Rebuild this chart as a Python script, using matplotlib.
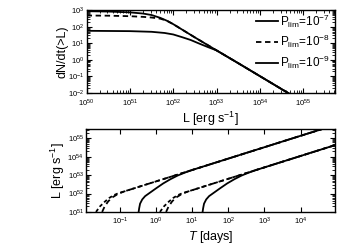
import numpy as np
import matplotlib
matplotlib.use("Agg")
import matplotlib.pyplot as plt
from matplotlib.ticker import LogLocator, NullFormatter, NullLocator, FixedLocator

plt.rcParams['font.family'] = ['Liberation Sans', 'DejaVu Sans']
plt.rcParams['mathtext.fontset'] = 'custom'
plt.rcParams['mathtext.rm'] = 'Liberation Sans'
plt.rcParams['mathtext.it'] = 'Liberation Sans:italic'
plt.rcParams['mathtext.bf'] = 'Liberation Sans:bold'

# ---------------- top panel data (log10 values) ----------------
logL_p7 = [50.0, 50.5, 51.0, 51.3, 51.5, 51.7, 51.85, 52.0, 52.5, 53.0, 53.5, 54.0, 54.5, 54.7]
logN_p7 = [2.93, 2.91, 2.86, 2.79, 2.70, 2.53, 2.36, 2.15, 1.35, 0.57, -0.20, -0.98, -1.76, -2.07]

logL_p8 = [50.0, 50.5, 51.0, 51.3, 51.5, 51.7, 51.85, 52.0, 52.5, 53.0, 53.5, 54.0, 54.5, 54.7]
logN_p8 = [2.67, 2.66, 2.63, 2.59, 2.55, 2.48, 2.36, 2.15, 1.35, 0.57, -0.20, -0.98, -1.76, -2.07]

logL_p9 = [50.0, 51.0, 51.5, 51.8, 52.0, 52.2, 52.4, 52.6, 52.8, 53.0, 53.5, 54.0, 54.5, 54.7]
logN_p9 = [1.75, 1.73, 1.69, 1.62, 1.53, 1.37, 1.20, 0.98, 0.77, 0.57, -0.20, -0.98, -1.76, -2.07]

legend_labels = [r'P$_{\rm lim}$=10$^{-7}$', r'P$_{\rm lim}$=10$^{-8}$', r'P$_{\rm lim}$=10$^{-9}$']

# ---------------- bottom panel data (log10 values) ----------------
# group 1 (upper)
logT_a1 = [-1.66, -1.55, -1.42, -1.30, -1.18, -1.05, -0.5, 0.0, 1.0, 2.0, 3.0, 4.0, 4.7]
logLb_a1 = [51.0, 51.3, 51.55, 51.75, 51.9, 52.01, 52.35, 52.66, 53.28, 53.9, 54.52, 55.14, 55.57]
logT_b1 = [-1.49, -1.42, -1.32, -1.20, -1.05, -0.9, -0.5, 0.0, 1.0, 2.0, 3.0, 4.0, 4.7]
logLb_b1 = [51.0, 51.3, 51.58, 51.8, 51.98, 52.1, 52.35, 52.66, 53.28, 53.9, 54.52, 55.14, 55.57]
logT_c1 = [-0.48, -0.465, -0.44, -0.38, -0.30, -0.2, 0.0, 0.2, 0.4, 0.6, 0.8, 1.0, 2.0, 3.0, 4.0, 4.7]
logLb_c1 = [51.0, 51.2, 51.45, 51.68, 51.86, 52.0, 52.28, 52.55, 52.78, 52.98, 53.14, 53.28, 53.9, 54.52, 55.14, 55.57]
# group 2 (lower)
logT_a2 = [0.11, 0.22, 0.35, 0.47, 0.59, 0.72, 1.27, 1.77, 2.77, 3.77, 4.77, 5.0]
logLb_a2 = [51.0, 51.3, 51.55, 51.75, 51.9, 52.01, 52.35, 52.66, 53.28, 53.9, 54.52, 54.66]
logT_b2 = [0.28, 0.35, 0.45, 0.57, 0.72, 0.87, 1.27, 1.77, 2.77, 3.77, 4.77, 5.0]
logLb_b2 = [51.0, 51.3, 51.58, 51.8, 51.98, 52.1, 52.35, 52.66, 53.28, 53.9, 54.52, 54.66]
logT_c2 = [1.29, 1.305, 1.33, 1.39, 1.47, 1.57, 1.77, 1.97, 2.17, 2.37, 2.57, 2.77, 3.77, 4.77, 5.0]
logLb_c2 = [51.0, 51.2, 51.45, 51.68, 51.86, 52.0, 52.28, 52.55, 52.78, 52.98, 53.14, 53.28, 53.9, 54.52, 54.66]

xticks_bottom = [1e-1, 1e0, 1e1, 1e2, 1e3, 1e4]

p = lambda a: np.power(10.0, np.asarray(a))

fig = plt.figure(figsize=(3.45, 2.45), dpi=100)
ax1 = fig.add_axes([0.251, 0.620, 0.720, 0.339])
ax2 = fig.add_axes([0.249, 0.135, 0.722, 0.338])

lw = 1.3
l1, = ax1.plot(p(logL_p7), p(logN_p7), 'k-', lw=lw)
l2, = ax1.plot(p(logL_p8), p(logN_p8), 'k--', lw=lw, dashes=(3, 2))
l3, = ax1.plot(p(logL_p9), p(logN_p9), 'k-', lw=lw)
ax1.set_xscale('log'); ax1.set_yscale('log')
ax1.set_xlim(1e50, 5.4e55)
ax1.set_ylim(1e-2, 1e3)
ax1.set_xlabel(r'L [erg s$^{-1}$]', fontsize=9, labelpad=1)
ax1.set_ylabel('dN/dt(>L)', fontsize=9, labelpad=0)
leg = ax1.legend([l1, l2, l3], legend_labels, loc='upper right', frameon=False,
                 fontsize=8.5, handlelength=1.9, handletextpad=0.2, labelspacing=0.3,
                 borderaxespad=0.0, bbox_to_anchor=(1.0, 1.03))

ls_short = (0, (2, 1.5))
ax2.plot(p(logT_a1), p(logLb_a1), color='k', lw=lw, linestyle=ls_short)
ax2.plot(p(logT_b1), p(logLb_b1), color='k', lw=lw, linestyle='--', dashes=(3, 2))
ax2.plot(p(logT_c1), p(logLb_c1), 'k-', lw=lw)
ax2.plot(p(logT_a2), p(logLb_a2), color='k', lw=lw, linestyle=ls_short)
ax2.plot(p(logT_b2), p(logLb_b2), color='k', lw=lw, linestyle='--', dashes=(3, 2))
ax2.plot(p(logT_c2), p(logLb_c2), 'k-', lw=lw)
ax2.set_xscale('log'); ax2.set_yscale('log')
ax2.set_xlim(1.15e-2, 9e4)
ax2.set_ylim(1e51, 3.2e55)
ax2.set_xlabel(r'$T$ [days]', fontsize=9, labelpad=1)
ax2.set_ylabel(r'L [erg s$^{-1}$]', fontsize=9, labelpad=0)

for ax in (ax1, ax2):
    ax.tick_params(which='both', direction='in', top=True, right=True, labelsize=5.5)
    ax.tick_params(axis='y', pad=1.5)
    ax.tick_params(axis='x', pad=3)
    ax.tick_params(which='major', length=3.5, width=0.8)
    ax.tick_params(which='minor', length=2, width=0.6)
    for s in ax.spines.values():
        s.set_linewidth(1.0)
    ax.yaxis.set_major_locator(LogLocator(base=10, numticks=20))
    ax.yaxis.set_minor_locator(LogLocator(base=10, subs=np.arange(2, 10), numticks=20))
    ax.yaxis.set_minor_formatter(NullFormatter())
ax1.xaxis.set_major_locator(LogLocator(base=10, numticks=20))
ax1.xaxis.set_minor_locator(LogLocator(base=10, subs=np.arange(2, 10), numticks=20))
ax1.xaxis.set_minor_formatter(NullFormatter())
ax2.xaxis.set_major_locator(FixedLocator(xticks_bottom))
ax2.xaxis.set_minor_locator(NullLocator())

fig.savefig('out.png', dpi=100)
